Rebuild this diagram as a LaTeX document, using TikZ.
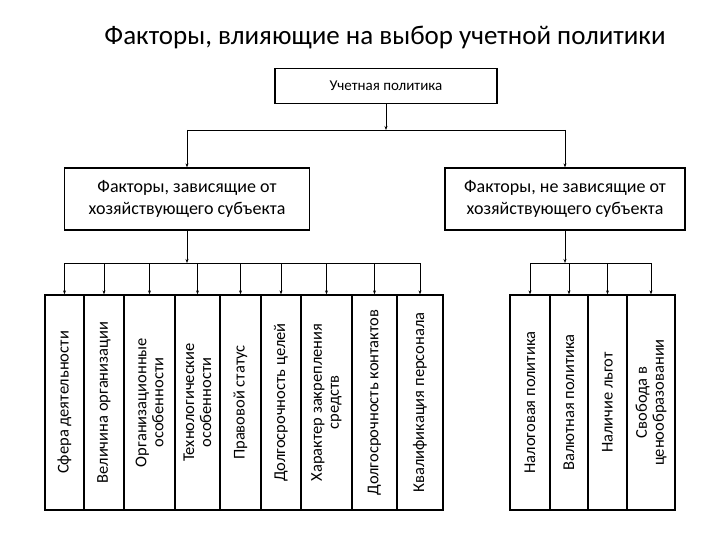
\documentclass[tikz,border=0pt]{standalone}
\usepackage{fontspec}
\setmainfont{Carlito}
\usetikzlibrary{arrows.meta}

\begin{document}
\begin{tikzpicture}[x=1pt, y=-1pt,
    box/.style={draw, line width=1.3pt, inner sep=2pt, align=center, font=\fontsize{18}{22}\selectfont},
    col/.style={draw, line width=1.3pt, rotate=90, inner sep=1pt, align=center, minimum width=215pt, font=\fontsize{16.5}{17}\selectfont},
    link/.style={line width=0.7pt},
    arr/.style={line width=0.7pt, -{Stealth[length=4pt, width=3pt]}}]
    \useasboundingbox (0,0) rectangle (720,540);

    % Title
    \node[font=\fontsize{27}{30}\selectfont] (title) at (385,38) {Факторы, влияющие на выбор учетной политики};

    % Top box
    \node[box, font=\fontsize{15}{18}\selectfont, minimum width=222pt, minimum height=35pt] (top) at (386,86) {Учетная политика};

    % Two factor groups
    \node[box, minimum width=245pt, minimum height=62pt] (dep) at (187,199)
        {Факторы, зависящие от\\хозяйствующего субъекта};
    \node[box, minimum width=240pt, minimum height=62pt] (indep) at (565,199)
        {Факторы,  не зависящие от\\хозяйствующего субъекта};

    \coordinate (split) at (386,130);
    \draw[arr] (top) -- (split);
    \draw[link] (187,130) -- (565,130);
    \draw[arr] (187,130) -- (dep);
    \draw[arr] (565,130) -- (indep);

    % Left columns: center x / width / text
    \foreach \n/\x/\w/\t in {
        a/64.5/39/{Сфера деятельности},
        b/104/40/{Величина организации},
        c/149.5/51/{Организационные\\особенности},
        d/197.5/45/{Технологические\\особенности},
        e/240.5/41/{Правовой статус},
        f/281/40/{Долгосрочность целей},
        g/326.5/51/{Характер закрепления\\средств},
        h/374.5/45/{Долгосрочность контактов},
        i/420/46/{Квалификация персонала}} {
        \node[col, minimum height=\w pt] (\n) at (\x,402.5) {\t};
        \draw[arr] (\x,263) -- (\n);
    }
    \coordinate (lbus) at (187,263);
    \draw[arr] (dep) -- (lbus);
    \draw[link] (64.5,263) -- (420,263);

    % Right columns
    \foreach \n/\x/\w/\t in {
        p/530/40/{Налоговая политика},
        q/569/38/{Валютная политика},
        r/607.5/39/{Наличие льгот},
        s/651/48/{Свобода в\\ценообразовании}} {
        \node[col, minimum height=\w pt] (\n) at (\x,402.5) {\t};
        \draw[arr] (\x,263) -- (\n);
    }
    \coordinate (rbus) at (565,263);
    \draw[arr] (indep) -- (rbus);
    \draw[link] (530,263) -- (651,263);
\end{tikzpicture}
\end{document}
